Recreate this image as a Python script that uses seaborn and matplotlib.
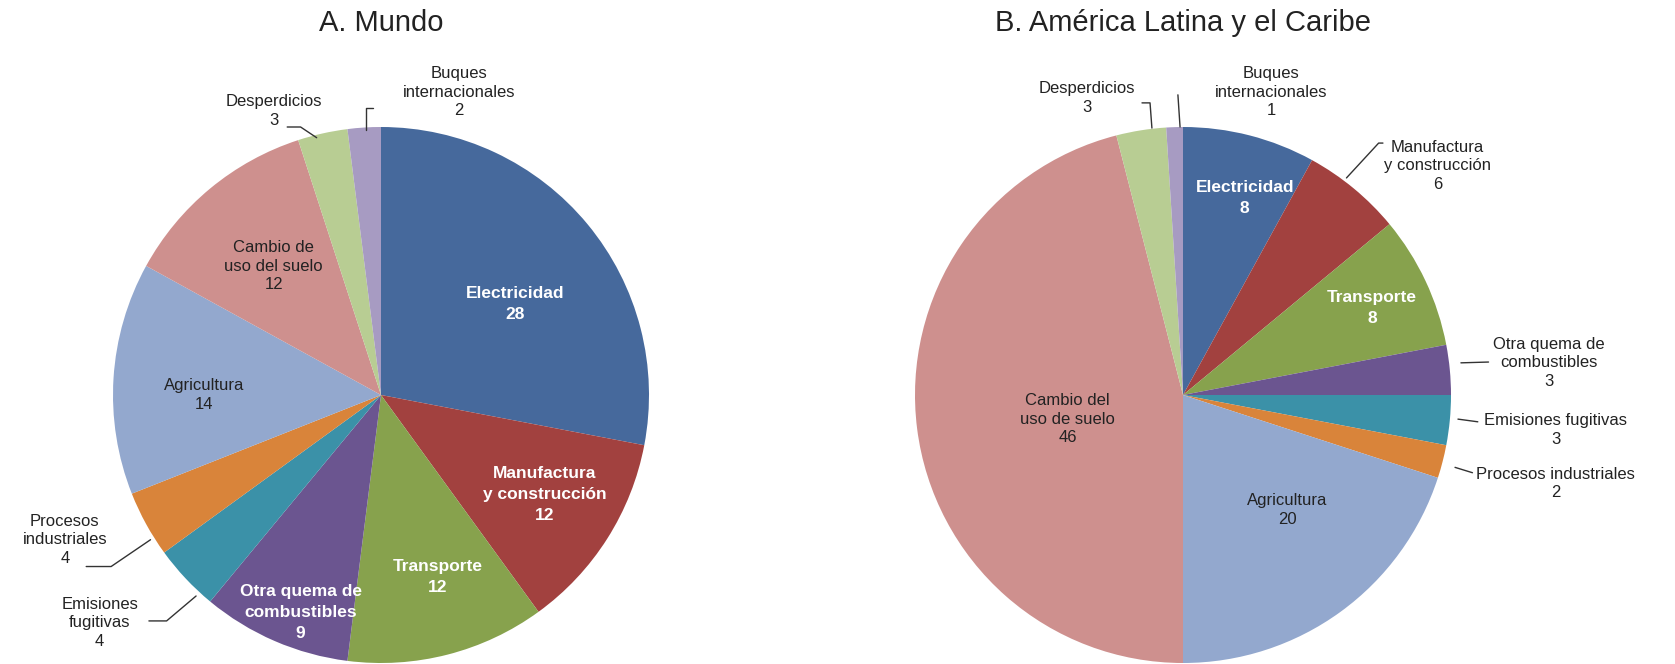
import matplotlib
matplotlib.use("Agg")
import matplotlib.pyplot as plt
import seaborn as sns

# data
sectores = ["Electricidad", "Manufactura y construcción", "Transporte",
            "Otra quema de combustibles", "Emisiones fugitivas",
            "Procesos industriales", "Agricultura", "Cambio de uso del suelo",
            "Desperdicios", "Buques internacionales"]
mundo = [28, 12, 12, 9, 4, 4, 14, 12, 3, 2]
alc = [8, 6, 8, 3, 3, 2, 20, 46, 3, 1]

etiq_mundo = ["Electricidad", "Manufactura\ny construcción", "Transporte",
              "Otra quema de\ncombustibles", "Emisiones\nfugitivas",
              "Procesos\nindustriales", "Agricultura", "Cambio de\nuso del suelo",
              "Desperdicios", "Buques\ninternacionales"]
etiq_alc = ["Electricidad", "Manufactura\ny construcción", "Transporte",
            "Otra quema de\ncombustibles", "Emisiones fugitivas",
            "Procesos industriales", "Agricultura", "Cambio del\nuso de suelo",
            "Desperdicios", "Buques\ninternacionales"]

colores = ["#46699C", "#A2413F", "#87A24D", "#6B5590", "#3B91A8",
           "#D9843A", "#93A8CE", "#CE908E", "#B8CD93", "#A79BC2"]

# label positions (data coords, radius 1) and whether label sits inside (white bold)
pos_mundo = [(0.50, 0.34), (0.61, -0.37), (0.21, -0.68), (-0.30, -0.81), (-1.05, -0.85),
             (-1.18, -0.54), (-0.66, 0.0), (-0.40, 0.48), (-0.40, 1.06), (0.29, 1.13)]
dentro_mundo = [True, True, True, True, False, False, False, False, False, False]
pos_alc = [(0.23, 0.735), (0.95, 0.855), (0.705, 0.325), (1.365, 0.12), (1.39, -0.13),
           (1.39, -0.33), (0.39, -0.43), (-0.43, -0.09), (-0.36, 1.108), (0.33, 1.13)]
dentro_alc = [True, False, True, False, False, False, False, False, False, False]

# leader lines
guias_mundo = [[(-0.35, 1.0), (-0.30, 1.0), (-0.24, 0.96)],
               [(-0.056, 0.99), (-0.056, 1.07), (-0.03, 1.07)],
               [(-1.10, -0.64), (-1.007, -0.64), (-0.86, -0.54)],
               [(-0.866, -0.843), (-0.80, -0.843), (-0.69, -0.75)]]
guias_alc = [[(0.746, 0.94), (0.73, 0.94), (0.61, 0.81)],
             [(1.037, 0.12), (1.14, 0.123)],
             [(1.026, -0.09), (1.10, -0.10)],
             [(1.015, -0.27), (1.08, -0.29)],
             [(-0.153, 1.09), (-0.123, 1.09), (-0.116, 0.996)],
             [(-0.019, 1.12), (-0.011, 1.0)]]

sns.set_theme(style="white")
plt.rcParams["font.family"] = ["Liberation Sans", "DejaVu Sans"]
pal = sns.color_palette(colores)

fig = plt.figure(figsize=(16.75, 6.64), dpi=100)
W, H = 1675, 664
R = 268


def pie(cx, cy, valores, etiquetas, posiciones, dentro, guias, titulo):
    ax = fig.add_axes([(cx - R) / W, (H - cy - R) / H, 2 * R / W, 2 * R / H])
    ax.pie(valores, colors=pal, startangle=90, counterclock=False, radius=1,
           wedgeprops=dict(linewidth=0))
    ax.set_xlim(-1, 1)
    ax.set_ylim(-1, 1)
    ax.set_aspect("equal")
    ax.axis("off")
    for v, t, (x, y), d in zip(valores, etiquetas, posiciones, dentro):
        if d:
            ax.text(x, y, f"{t}\n{v}", ha="center", va="center", color="white",
                    fontsize=12.5, fontweight="bold", linespacing=1.5, clip_on=False)
        else:
            ax.text(x, y, f"{t}\n{v}", ha="center", va="center", color="#222222",
                    fontsize=12, linespacing=1.3, clip_on=False)
    for g in guias:
        xs, ys = zip(*g)
        ax.plot(xs, ys, color="#333333", lw=1, clip_on=False)
    fig.text(cx / W, 1 - 23 / H, titulo, ha="center", va="center", fontsize=21,
             color="#222222")


pie(381, 395, mundo, etiq_mundo, pos_mundo, dentro_mundo, guias_mundo, "A. Mundo")
pie(1183, 395, alc, etiq_alc, pos_alc, dentro_alc, guias_alc,
    "B. América Latina y el Caribe")

fig.savefig("out.png", dpi=100, facecolor="white")
